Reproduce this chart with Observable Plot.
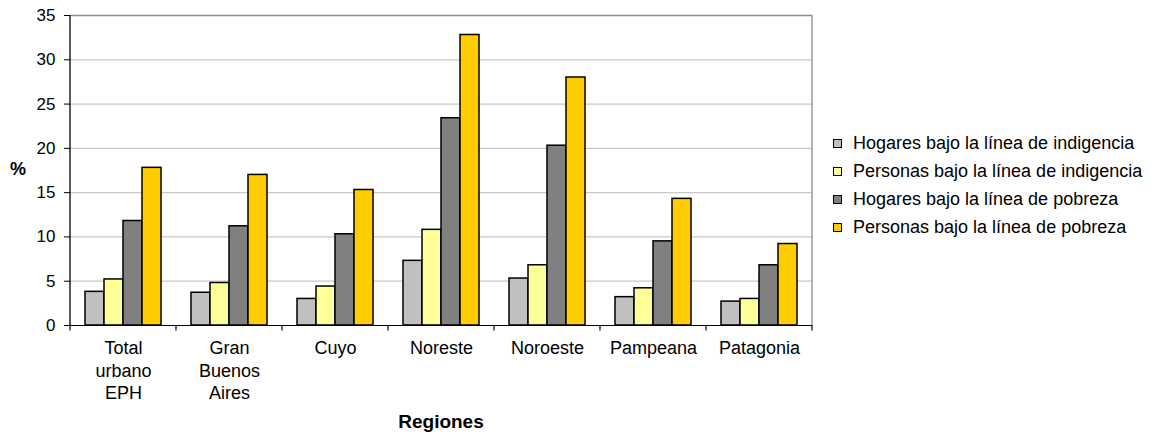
<!DOCTYPE html>
<html>
<head>
<meta charset="utf-8">
<script src="https://cdn.jsdelivr.net/npm/d3@7"></script>
<script src="https://cdn.jsdelivr.net/npm/@observablehq/plot@0.6"></script>
<style>
  html, body { margin: 0; padding: 0; background: #fff; }
  #wrap { position: relative; width: 1170px; height: 436px; font-family: "Liberation Sans", Arial, sans-serif; color: #000; }
  #chart svg { display: block; }
  .lbl { position: absolute; font-weight: bold; white-space: nowrap; }
  #legend { position: absolute; left: 833px; top: 130px; font-size: 18px; }
  .item { display: flex; align-items: center; height: 27.8px; white-space: nowrap; }
  .sw { width: 7px; height: 7px; border: 1px solid #000; margin-right: 11px; }
</style>
</head>
<body>
<div id="wrap">
  <div id="chart"></div>
  <div class="lbl" id="ylab" style="left:10px; top:159px; font-size:18px;">%</div>
  <div class="lbl" id="xlab" style="left:0; width:882px; text-align:center; top:411px; font-size:19px;">Regiones</div>
  <div id="legend"></div>
</div>
<script>
// ---- data ----
const regions = ["Total urbano EPH", "Gran Buenos Aires", "Cuyo", "Noreste", "Noroeste", "Pampeana", "Patagonia"];
const regionTickLabels = ["Total\nurbano\nEPH", "Gran\nBuenos\nAires", "Cuyo", "Noreste", "Noroeste", "Pampeana", "Patagonia"];
const series = [
  "Hogares bajo la línea de indigencia",
  "Personas bajo la línea de indigencia",
  "Hogares bajo la línea de pobreza",
  "Personas bajo la línea de pobreza"
];
const hogaresIndigencia  = [3.8, 3.7, 3.0, 7.3, 5.3, 3.2, 2.7];
const personasIndigencia = [5.2, 4.8, 4.4, 10.8, 6.8, 4.2, 3.0];
const hogaresPobreza     = [11.8, 11.2, 10.3, 23.4, 20.3, 9.5, 6.8];
const personasPobreza    = [17.8, 17.0, 15.3, 32.8, 28.0, 14.3, 9.2];
const seriesColors = ["#C0C0C0", "#FFFF99", "#808080", "#FFCC00"];
const yTicks = [0, 5, 10, 15, 20, 25, 30, 35];

const valuesBySeries = [hogaresIndigencia, personasIndigencia, hogaresPobreza, personasPobreza];
const data = [];
regions.forEach((r, i) => series.forEach((s, j) => data.push({region: r, series: s, value: valuesBySeries[j][i]})));

const font = "Liberation Sans, Arial, sans-serif";

const chart = Plot.plot({
  width: 1170,
  height: 436,
  marginLeft: 68,
  marginRight: 356,
  marginTop: 15,
  marginBottom: 111,
  style: {fontFamily: font, fontSize: "16px", color: "#000", background: "#fff"},
  fx: {domain: regions, padding: 0, label: null},
  x: {domain: series, paddingInner: 0, paddingOuter: 0.768, axis: null},
  y: {domain: [0, 35], axis: null},
  color: {domain: series, range: seriesColors},
  marks: [
    Plot.gridY(yTicks, {stroke: "#c8c8c8", strokeOpacity: 1, strokeWidth: 1.2}),
    Plot.ruleY([35], {stroke: "#8c8c8c", strokeWidth: 1.3}),
    Plot.barY(data, {fx: "region", x: "series", y: "value", fill: "series", stroke: "#000", strokeWidth: 1.5}),
    Plot.ruleY([0], {stroke: "#000", strokeWidth: 1.2}),
    Plot.axisY(yTicks, {tickSize: 6, tickPadding: 9, fontSize: 17, label: null, stroke: "#000"}),
    Plot.axisFx({anchor: "bottom", tickSize: 0, tickPadding: 13, fontSize: 18, lineHeight: 1.25, label: null,
      tickFormat: d => regionTickLabels[regions.indexOf(d)]})
  ]
});
document.getElementById("chart").appendChild(chart);

// axis line and category separator ticks, positioned from the chart's own scales
const fx = chart.scale("fx");
const ys = chart.scale("y");
const svg = d3.select(chart);
const y0 = ys.apply(0), yTop = ys.apply(35);
const edges = regions.map(r => fx.apply(r));
edges.push(fx.apply(regions[regions.length - 1]) + fx.bandwidth);
const g = svg.append("g");
g.selectAll("line.sep").data(edges).join("line")
  .attr("x1", d => d).attr("x2", d => d).attr("y1", y0).attr("y2", y0 + 5.5)
  .attr("stroke", "#000").attr("stroke-width", 1.2);
g.append("line").attr("x1", edges[0]).attr("x2", edges[0]).attr("y1", yTop).attr("y2", y0)
  .attr("stroke", "#000").attr("stroke-width", 1.3);
g.append("line").attr("x1", edges[edges.length - 1]).attr("x2", edges[edges.length - 1]).attr("y1", yTop).attr("y2", y0)
  .attr("stroke", "#8c8c8c").attr("stroke-width", 1.3);

// legend
const legend = d3.select("#legend");
series.forEach((s, j) => {
  const it = legend.append("div").attr("class", "item");
  it.append("div").attr("class", "sw").style("background", seriesColors[j]);
  it.append("span").text(s);
});
</script>
</body>
</html>
